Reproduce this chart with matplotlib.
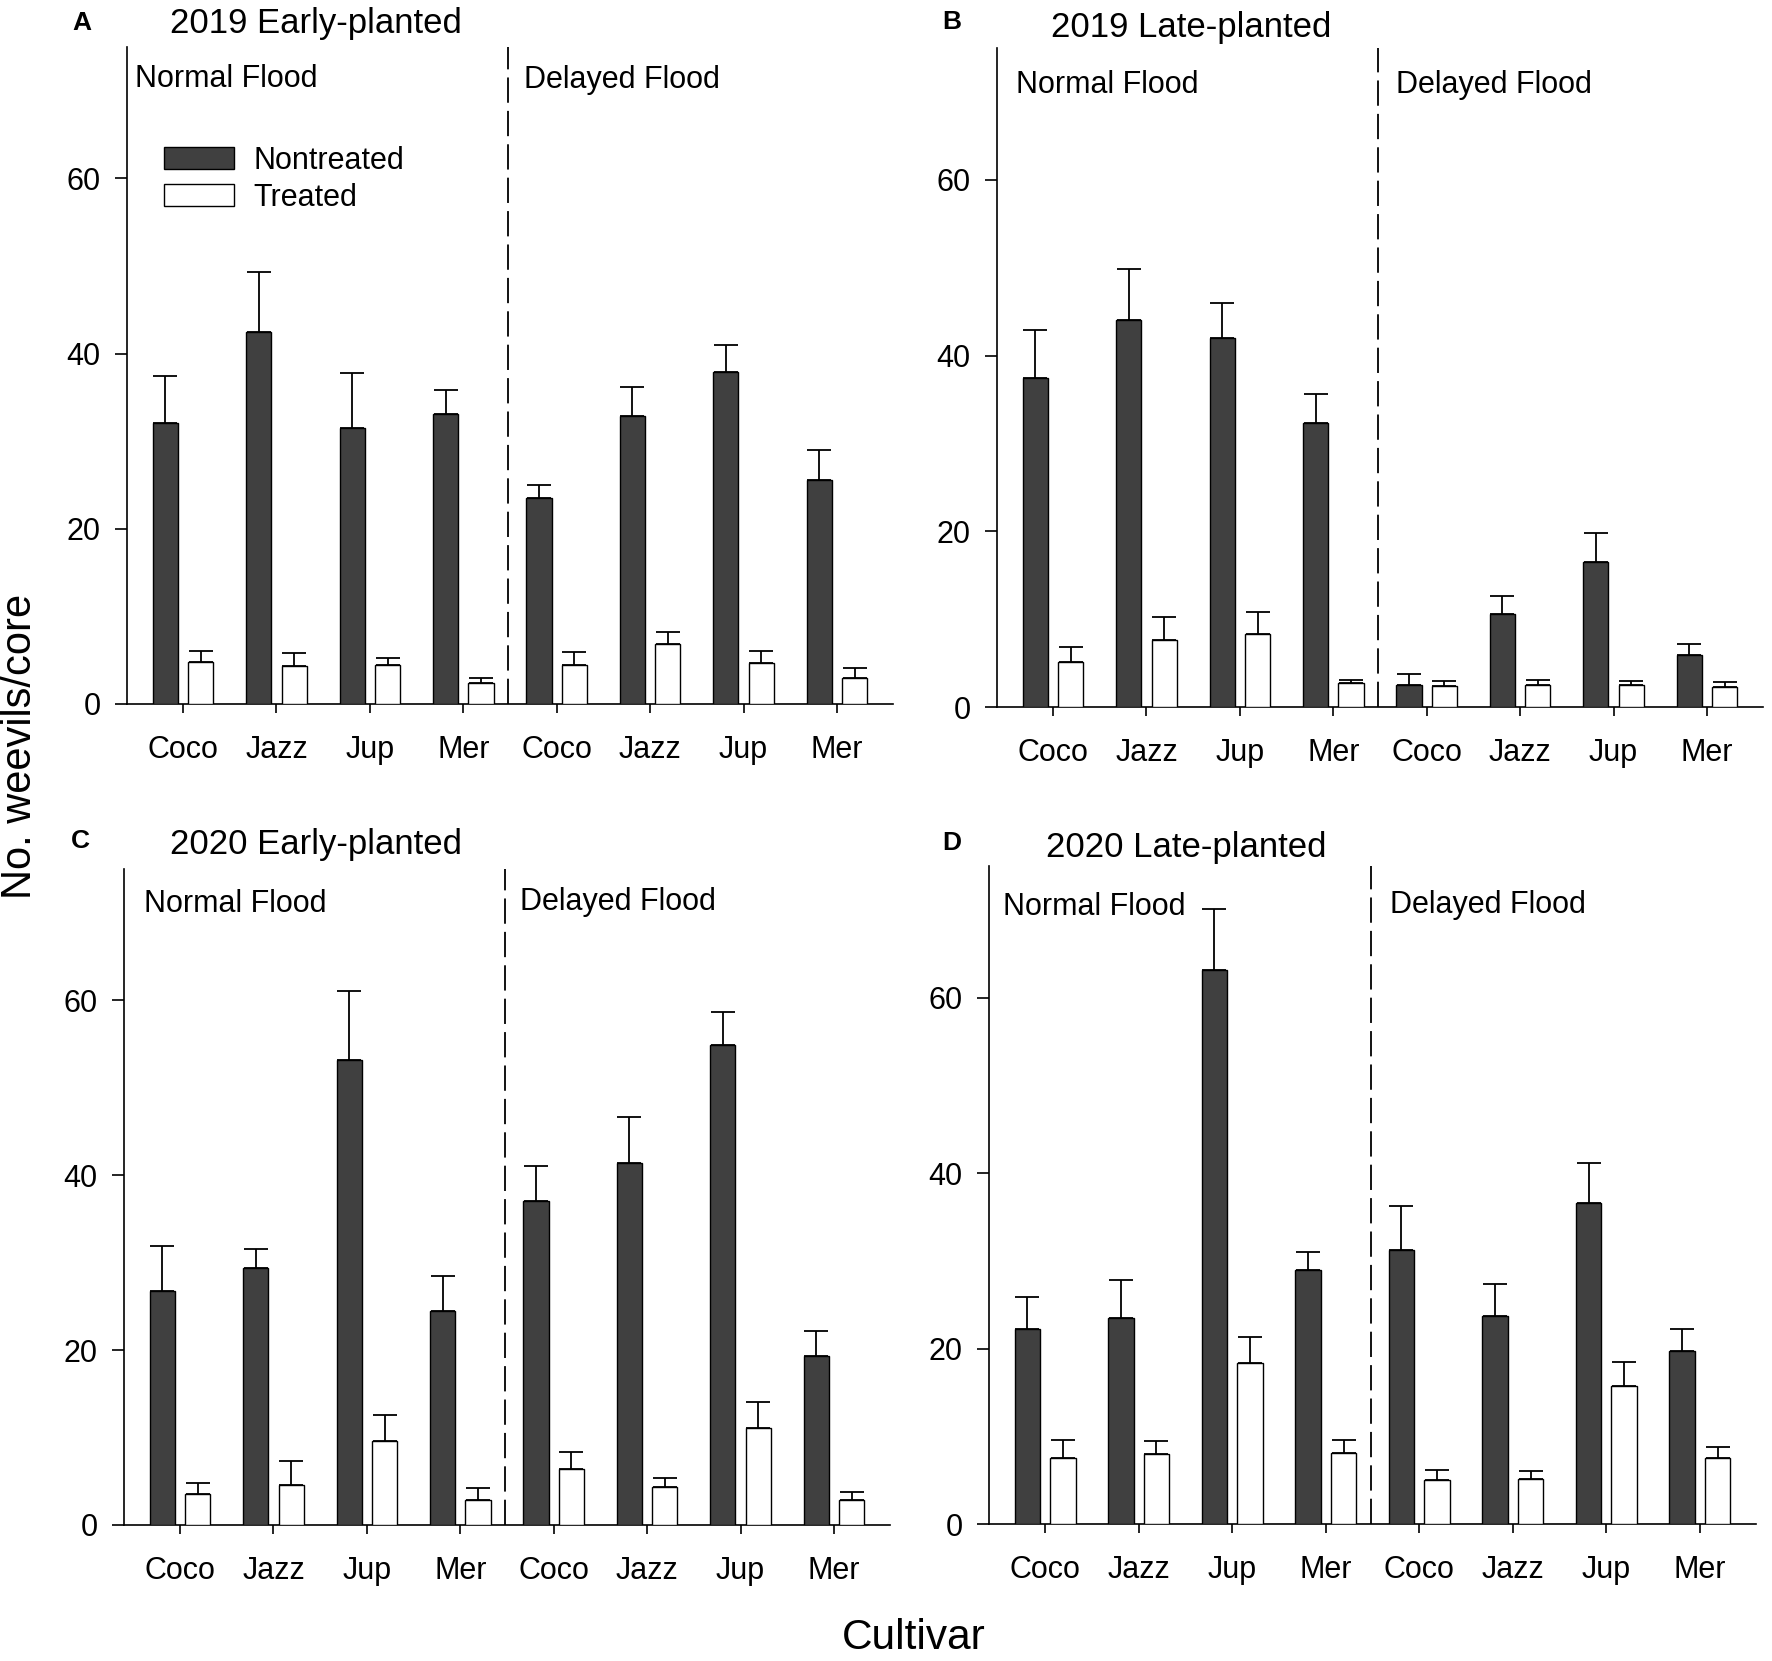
import numpy as np
import matplotlib
matplotlib.use("Agg")
import matplotlib.pyplot as plt
from matplotlib.patches import Patch

plt.rcParams['font.family'] = ['Liberation Sans', 'DejaVu Sans']

cultivars = ['Coco', 'Jazz', 'Jup', 'Mer', 'Coco', 'Jazz', 'Jup', 'Mer']
panel_letters = ['A', 'B', 'C', 'D']
panel_titles = ['2019 Early-planted', '2019 Late-planted',
                '2020 Early-planted', '2020 Late-planted']

# means (normal flood x4, delayed flood x4) and standard errors
nontreated_A = [32.1, 42.5, 31.5, 33.1, 23.5, 32.9, 37.9, 25.6]
nontreated_A_se = [5.3, 6.8, 6.3, 2.8, 1.5, 3.3, 3.1, 3.4]
treated_A = [4.8, 4.3, 4.4, 2.4, 4.4, 6.9, 4.7, 3.0]
treated_A_se = [1.2, 1.5, 0.8, 0.6, 1.5, 1.3, 1.4, 1.1]

nontreated_B = [37.4, 44.1, 42.0, 32.3, 2.5, 10.6, 16.5, 5.9]
nontreated_B_se = [5.5, 5.8, 4.0, 3.3, 1.3, 2.0, 3.3, 1.3]
treated_B = [5.1, 7.6, 8.3, 2.7, 2.4, 2.5, 2.5, 2.3]
treated_B_se = [1.7, 2.6, 2.5, 0.4, 0.6, 0.6, 0.5, 0.6]

nontreated_C = [26.7, 29.4, 53.2, 24.5, 37.0, 41.4, 54.9, 19.3]
nontreated_C_se = [5.2, 2.2, 7.9, 4.0, 4.0, 5.3, 3.8, 2.9]
treated_C = [3.6, 4.6, 9.6, 2.9, 6.4, 4.4, 11.1, 2.9]
treated_C_se = [1.2, 2.7, 3.0, 1.3, 2.0, 1.0, 3.0, 0.9]

nontreated_D = [22.2, 23.5, 63.1, 28.9, 31.2, 23.7, 36.6, 19.7]
nontreated_D_se = [3.7, 4.3, 7.0, 2.1, 5.1, 3.6, 4.6, 2.5]
treated_D = [7.5, 8.0, 18.4, 8.1, 5.0, 5.1, 15.7, 7.5]
treated_D_se = [2.1, 1.5, 2.9, 1.5, 1.1, 0.9, 2.8, 1.3]

nontreated = [nontreated_A, nontreated_B, nontreated_C, nontreated_D]
nontreated_se = [nontreated_A_se, nontreated_B_se, nontreated_C_se, nontreated_D_se]
treated = [treated_A, treated_B, treated_C, treated_D]
treated_se = [treated_A_se, treated_B_se, treated_C_se, treated_D_se]

W, H = 1772, 1661
fig = plt.figure(figsize=(W / 100, H / 100), dpi=100)

# axes boxes in pixels: left, top, right, bottom
boxes = [(127, 47, 893, 704), (997, 48, 1763, 707),
         (124, 869, 890, 1525), (989, 866, 1756, 1524)]
letter_pos = [(72, 23), (942, 22), (71, 841), (942, 843)]
title_pos = [(170, 23), (1051, 27), (170, 844), (1046, 847)]
# flood labels in data coords (x, y)
normal_pos = [(0.49, 71.4), (0.60, 70.8), (0.61, 71.0), (0.55, 70.3)]
delayed_pos = [(4.65, 71.2), (4.67, 70.8), (4.64, 71.2), (4.69, 70.6)]

dark = '#404040'
fs = 22
bw = 0.27
off = 0.19
x = np.arange(1, 9)

for i in range(4):
    l, t, r, b = boxes[i]
    ax = fig.add_axes([l / W, 1 - b / H, (r - l) / W, (b - t) / H])

    ax.bar(x - off, nontreated[i], width=bw, color=dark, edgecolor='black',
           linewidth=1.0, zorder=3)
    ax.bar(x + off, treated[i], width=bw, color='white', edgecolor='black',
           linewidth=1.0, zorder=3)
    ax.errorbar(x - off, nontreated[i], yerr=[np.zeros(8), nontreated_se[i]],
                fmt='none', ecolor='black', elinewidth=1.3, capsize=8.7,
                capthick=1.3, zorder=2)
    ax.errorbar(x + off, treated[i], yerr=[np.zeros(8), treated_se[i]],
                fmt='none', ecolor='black', elinewidth=1.3, capsize=8.7,
                capthick=1.3, zorder=2)

    ax.axvline(4.48, color='black', linewidth=1.3, linestyle=(0, (14, 4.5)))

    ax.set_xlim(0.4, 8.6)
    ax.set_ylim(0, 75)
    ax.set_xticks(x)
    ax.set_xticklabels(cultivars)
    ax.set_yticks([0, 20, 40, 60])
    ax.tick_params(axis='x', length=6.5, width=1.2, pad=16, labelsize=fs)
    ax.tick_params(axis='y', length=9, width=1.2, pad=10, labelsize=fs)
    for s in ['top', 'right']:
        ax.spines[s].set_visible(False)
    for s in ['left', 'bottom']:
        ax.spines[s].set_linewidth(1.2)

    ax.text(*normal_pos[i], 'Normal Flood', fontsize=fs, va='center', ha='left')
    ax.text(*delayed_pos[i], 'Delayed Flood', fontsize=fs, va='center', ha='left')

    lx, ly = letter_pos[i]
    fig.text(lx / W, 1 - ly / H, panel_letters[i], fontsize=19,
             fontweight='bold', va='center', ha='left')
    tx, ty = title_pos[i]
    fig.text(tx / W, 1 - ty / H, panel_titles[i], fontsize=25,
             va='center', ha='left')

    if i == 0:
        handles = [Patch(facecolor=dark, edgecolor='black', linewidth=1.0),
                   Patch(facecolor='white', edgecolor='black', linewidth=1.0)]
        ax.legend(handles, ['Nontreated', 'Treated'], loc='upper left',
                  bbox_to_anchor=(164 / W, 1 - 146 / H),
                  bbox_transform=fig.transFigure, frameon=False,
                  fontsize=fs, handlelength=2.3, handleheight=0.72,
                  handletextpad=0.62, labelspacing=0.22, borderpad=0,
                  borderaxespad=0)

fig.text(20 / W, 1 - 746 / H, 'No. weevils/core', fontsize=30,
         rotation=90, va='center', ha='center')
fig.text(914 / W, 1 - 1638 / H, 'Cultivar', fontsize=30.5,
         va='center', ha='center')

fig.savefig('out.png', dpi=100)
